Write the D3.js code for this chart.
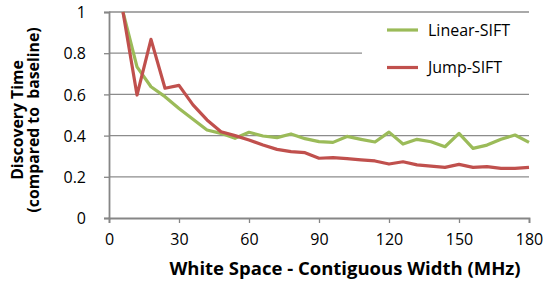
<!DOCTYPE html>
<html>
<head>
<meta charset="utf-8">
<script src="https://cdn.jsdelivr.net/npm/d3@7"></script>
<style>
  body { margin: 0; background: #fff; }
  text { font-family: "Open Sans", Lato, sans-serif; fill: #000; }
</style>
</head>
<body>
<div id="chart"></div>
<script>
// Contiguous width (MHz) sampled every 6 MHz
const widths = d3.range(6, 181, 6);

const linearSift = [1.0, 0.734, 0.637, 0.589, 0.532, 0.479, 0.427, 0.411, 0.387, 0.416,
  0.398, 0.39, 0.408, 0.385, 0.371, 0.367, 0.396, 0.382, 0.369, 0.417,
  0.359, 0.382, 0.37, 0.346, 0.411, 0.338, 0.354, 0.382, 0.403, 0.367];

const jumpSift = [1.0, 0.597, 0.867, 0.63, 0.644, 0.549, 0.476, 0.419, 0.40, 0.379,
  0.354, 0.333, 0.322, 0.317, 0.29, 0.293, 0.288, 0.282, 0.277, 0.262,
  0.273, 0.258, 0.252, 0.246, 0.26, 0.246, 0.249, 0.241, 0.241, 0.246];

const xTicks = [0, 30, 60, 90, 120, 150, 180];
const yTicks = [0, 0.2, 0.4, 0.6, 0.8, 1];

const series = [
  { name: "Linear-SIFT", values: linearSift, color: "#9bbb59" },
  { name: "Jump-SIFT", values: jumpSift, color: "#c0504d" }
];

const W = 554, H = 284;
const margin = { top: 12, right: 25, bottom: 66, left: 109 };
const width = W - margin.left - margin.right;
const height = H - margin.top - margin.bottom;

const svg = d3.select("#chart").append("svg")
  .attr("width", W)
  .attr("height", H);

const g = svg.append("g")
  .attr("transform", `translate(${margin.left},${margin.top})`);

const xScale = d3.scaleLinear().domain([0, 180]).range([0, width]);
const yScale = d3.scaleLinear().domain([0, 1]).range([height, 0]);

// gridlines
g.selectAll(".grid")
  .data(yTicks.filter(d => d > 0))
  .enter()
  .append("line")
  .attr("class", "grid")
  .attr("x1", 0)
  .attr("x2", width)
  .attr("y1", d => yScale(d))
  .attr("y2", d => yScale(d))
  .attr("stroke", "#8c8c8c")
  .attr("stroke-width", 1.3);

// axes
const xAxis = d3.axisBottom(xScale).tickValues(xTicks).tickSize(5).tickPadding(11);
const yAxis = d3.axisLeft(yScale).tickValues(yTicks).tickSize(5).tickPadding(18)
  .tickFormat(d => d3.format("")(d));

const gx = g.append("g")
  .attr("transform", `translate(0,${height})`)
  .call(xAxis);
const gy = g.append("g").call(yAxis);

[gx, gy].forEach(a => {
  a.select(".domain").attr("stroke", "#868686").attr("stroke-width", 1.8);
  a.selectAll(".tick line").attr("stroke", "#868686").attr("stroke-width", 1.3);
  a.selectAll(".tick text").style("font-size", "16px").attr("fill", "#000");
});
gy.selectAll(".tick text").attr("dy", "0.36em");

// lines
const line = d3.line()
  .x((d, i) => xScale(widths[i]))
  .y(d => yScale(d));

series.forEach(s => {
  g.append("path")
    .datum(s.values)
    .attr("fill", "none")
    .attr("stroke", s.color)
    .attr("stroke-width", 3.2)
    .attr("stroke-linejoin", "round")
    .attr("d", line);
});

// legend (white box covers the gridlines behind it)
const legend = g.append("g").attr("transform", `translate(${width - 167},1)`);
legend.append("rect")
  .attr("x", 0).attr("y", 0)
  .attr("width", 168).attr("height", 76)
  .attr("fill", "#fff");

series.forEach((s, i) => {
  const row = legend.append("g").attr("transform", `translate(25,${17 + i * 37.5})`);
  row.append("line")
    .attr("x1", 0).attr("x2", 31)
    .attr("stroke", s.color)
    .attr("stroke-width", 3.2);
  row.append("text")
    .attr("x", 41)
    .attr("dy", "0.35em")
    .style("font-size", "16px")
    .text(s.name);
});

// axis titles
svg.append("text")
  .attr("x", margin.left + width / 2 + 26)
  .attr("y", 275)
  .attr("text-anchor", "middle")
  .style("font-size", "18.5px")
  .style("font-weight", "bold")
  .text("White Space - Contiguous Width (MHz)");

const yTitle = svg.append("text")
  .attr("transform", `translate(0,${margin.top + height / 2 + 5}) rotate(-90)`)
  .attr("text-anchor", "middle")
  .style("font-size", "15.8px")
  .style("font-weight", "bold");
yTitle.append("tspan").attr("x", 0).attr("y", 23).text("Discovery Time");
yTitle.append("tspan").attr("x", 0).attr("y", 39).style("white-space", "pre")
  .text("(compared to\u00a0 baseline)");
</script>
</body>
</html>
